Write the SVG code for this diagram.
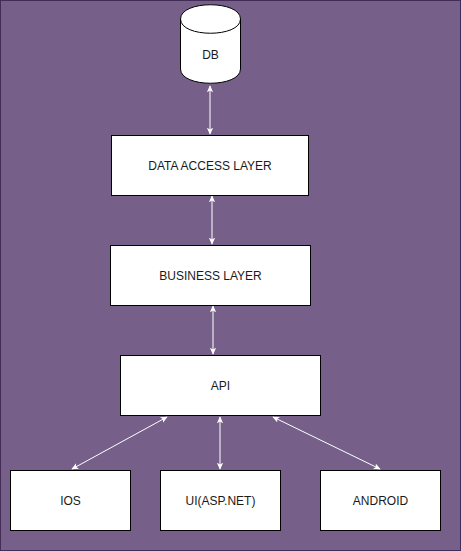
<svg xmlns="http://www.w3.org/2000/svg" width="461" height="551" viewBox="0 0 461 551">
<defs>
<marker id="ah" viewBox="0 0 10 10" refX="9" refY="5" markerWidth="7" markerHeight="7" orient="auto-start-reverse" markerUnits="userSpaceOnUse">
<path d="M0,0.5 L10,5 L0,9.5 L2.5,5 Z" fill="#ffffff"/>
</marker>
<style>
.box{fill:#ffffff;stroke:#000000;stroke-width:1}
.lbl{font-family:"Liberation Sans",Arial,sans-serif;font-size:12px;fill:#1a1a1a;text-anchor:middle;dominant-baseline:central}
.edge{stroke:#ffffff;stroke-width:1;fill:none;marker-start:url(#ah);marker-end:url(#ah)}
</style>
</defs>
<rect x="0.5" y="0.5" width="460" height="550" fill="#76608a" stroke="#432d57" stroke-width="1"/>
<g id="connectors">
<line class="edge" x1="210" y1="86" x2="210" y2="134"/>
<line class="edge" x1="212" y1="196" x2="212" y2="244"/>
<line class="edge" x1="213" y1="306" x2="213" y2="354"/>
<line class="edge" x1="167" y1="417" x2="72" y2="469"/>
<line class="edge" x1="220" y1="417" x2="220" y2="469"/>
<line class="edge" x1="273" y1="417" x2="380" y2="469"/>
</g>
<g id="db">
<path class="box" d="M180.5,19 C180.5,0 240.5,0 240.5,19 L240.5,69 C240.5,88 180.5,88 180.5,69 Z"/>
<path d="M180.5,19 C180.5,38 240.5,38 240.5,19" fill="none" stroke="#000000" stroke-width="1"/>
<text class="lbl" x="210.5" y="55">DB</text>
</g>
<g id="dal">
<rect class="box" x="111.5" y="135.5" width="197" height="60"/>
<text class="lbl" x="210" y="165.5">DATA ACCESS LAYER</text>
</g>
<g id="bl">
<rect class="box" x="110.5" y="245.5" width="200" height="60"/>
<text class="lbl" x="210.5" y="275.5">BUSINESS LAYER</text>
</g>
<g id="api">
<rect class="box" x="120.5" y="355.5" width="200" height="60"/>
<text class="lbl" x="220.5" y="385.5">API</text>
</g>
<g id="ios">
<rect class="box" x="10.5" y="470.5" width="120" height="60"/>
<text class="lbl" x="70.5" y="500.5">IOS</text>
</g>
<g id="ui">
<rect class="box" x="160.5" y="470.5" width="120" height="60"/>
<text class="lbl" x="220.5" y="500.5">UI(ASP.NET)</text>
</g>
<g id="android">
<rect class="box" x="320.5" y="470.5" width="120" height="60"/>
<text class="lbl" x="380.5" y="500.5">ANDROID</text>
</g>
</svg>
